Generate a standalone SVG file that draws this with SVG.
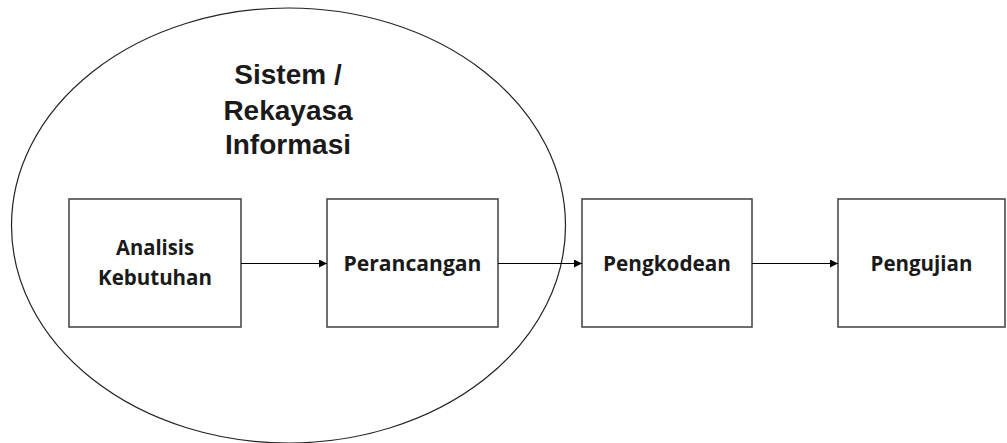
<svg xmlns="http://www.w3.org/2000/svg" width="1007" height="443" viewBox="0 0 1007 443">
<style>
.box{fill:#fff;stroke:#4a4a4a;stroke-width:1.6}
.lbl{font-family:"Open Sans","DejaVu Sans",sans-serif;font-weight:700;font-size:21px;fill:#1a1a1a;text-anchor:middle}
.ttl{font-family:"Liberation Sans",Arial,sans-serif;font-weight:bold;font-size:28px;fill:#1a1a1a;text-anchor:middle}
.conn{stroke:#000;stroke-width:1.2;fill:none;marker-end:url(#ah)}
</style>
<defs>
<marker id="ah" viewBox="0 0 10 10" refX="10" refY="5" markerWidth="10" markerHeight="8" markerUnits="userSpaceOnUse" orient="auto">
<path d="M0,0 L10,5 L0,10 Z" fill="#000"/>
</marker>
</defs>
<rect width="1007" height="443" fill="#fff"/>
<g id="scope">
<ellipse cx="288.5" cy="225.5" rx="277" ry="217.5" fill="none" stroke="#222" stroke-width="1.2"/>
<text class="ttl" x="288" y="84">Sistem /</text>
<text class="ttl" x="288" y="120">Rekayasa</text>
<text class="ttl" x="288" y="154">Informasi</text>
</g>
<g id="analisis">
<rect class="box" x="69" y="199" width="172" height="128"/>
<text class="lbl" x="155" y="255" textLength="78" lengthAdjust="spacingAndGlyphs">Analisis</text>
<text class="lbl" x="155" y="285" textLength="114" lengthAdjust="spacingAndGlyphs">Kebutuhan</text>
</g>
<g id="perancangan">
<rect class="box" x="327" y="199" width="171" height="128"/>
<text class="lbl" x="412.5" y="271" textLength="138" lengthAdjust="spacingAndGlyphs">Perancangan</text>
</g>
<g id="pengkodean">
<rect class="box" x="582" y="199" width="170" height="128"/>
<text class="lbl" x="667" y="271" textLength="128" lengthAdjust="spacingAndGlyphs">Pengkodean</text>
</g>
<g id="pengujian">
<rect class="box" x="838" y="199" width="167" height="128"/>
<text class="lbl" x="921.5" y="271" textLength="102" lengthAdjust="spacingAndGlyphs">Pengujian</text>
</g>
<g id="connectors">
<line class="conn" x1="241" y1="263.5" x2="327" y2="263.5"/>
<line class="conn" x1="498" y1="263.5" x2="582" y2="263.5"/>
<line class="conn" x1="752" y1="263.5" x2="838" y2="263.5"/>
</g>
</svg>
